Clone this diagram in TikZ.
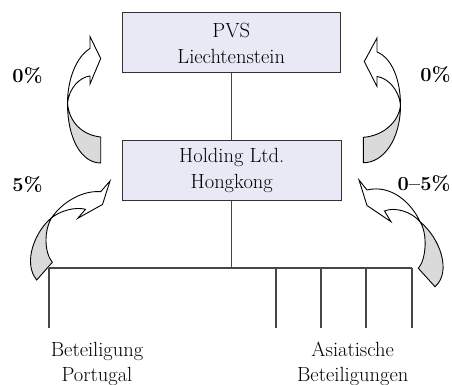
\documentclass[tikz,border=0pt]{standalone}
\definecolor{boxfill}{RGB}{233,233,246}
\definecolor{boxline}{RGB}{50,50,50}
\definecolor{treeline}{RGB}{70,70,70}
\definecolor{backside}{RGB}{218,218,218}
\begin{document}
\begin{tikzpicture}[x=1pt,y=-1pt,
  entity/.style={draw=boxline, fill=boxfill, line width=1pt,
    minimum width=218.5pt, minimum height=60pt, inner sep=0pt,
    align=center, font=\fontsize{20.5}{26}\selectfont},
  wire/.style={draw=treeline, line width=1.2pt},
  caption/.style={align=center, font=\fontsize{20.5}{25}\selectfont, anchor=base},
  rate/.style={font=\fontsize{20}{23}\bfseries\selectfont, anchor=base},
  front/.style={fill=white, draw=black, line width=0.9pt, line join=miter},
  back/.style={fill=backside, draw=black, line width=0.9pt, line join=miter}]
\useasboundingbox (0,0) rectangle (452,385);

% entities
\node[entity] (pvs) at (231.25,43) {PVS\\Liechtenstein};
\node[entity] (hold) at (231.75,170.5) {Holding Ltd.\\Hongkong};
\draw[wire] (pvs.south) -- (pvs.south |- hold.north);

% subsidiaries bus
\coordinate (bus) at (pvs.south |- 0,268);
\coordinate (busL) at (49,268);
\coordinate (busR) at (412,268);
\coordinate (d1) at (49,328);
\coordinate (d2) at (276,328);
\coordinate (d3) at (321,328);
\coordinate (d4) at (366,328);
\coordinate (d5) at (412,328);
\draw[wire] (pvs.south |- hold.south) -- (bus);
\draw[wire] (busL) -- (busR);
\draw[wire] (busL) -- (d1);
\draw[wire] (d2 |- busL) -- (d2);
\draw[wire] (d3 |- busL) -- (d3);
\draw[wire] (d4 |- busL) -- (d4);
\draw[wire] (busR) -- (d5);

\node[caption] (pt) at (97,381) {Beteiligung\\Portugal};
\node[caption] (asia) at (352.7,381) {Asiatische\\Beteiligungen};

% rates
\node[rate] (r1) at (27.5,83) {0\%};
\node[rate] (r2) at (435.5,82) {0\%};
\node[rate] (r3) at (27.5,191.5) {5\%};
\node[rate] (r4) at (424,190) {0--5\%};

% curved arrow, top left
\draw[front] (67.5,103) .. controls (67.5,80) and (76,57) .. (90,48.5)
  -- (90,36.5) -- (100.7,58.5) -- (90,84) -- (90,76)
  .. controls (80,77) and (69,88) .. (67.5,103) -- cycle;
\draw[back] (67.5,103) .. controls (67.5,140) and (82,163) .. (100.7,163)
  -- (100.7,137) .. controls (82,135) and (69,122) .. (67.5,103) -- cycle;

% curved arrow, top right
\draw[front] (400.5,105) .. controls (400.5,80) and (392,58) .. (377,52)
  -- (377,38) -- (364.3,61.5) -- (377,86.5) -- (377,76.5)
  .. controls (388,78) and (399,90) .. (400.5,105) -- cycle;
\draw[back] (400.5,105) .. controls (400.5,140) and (383,163) .. (363.3,162.7)
  -- (363.3,137.3) .. controls (383,136) and (399,122) .. (400.5,105) -- cycle;

% curved arrow, bottom left
\draw[front] (51.7,217.7) .. controls (60,205) and (80,190) .. (100.7,191.7)
  -- (110,181) -- (102.5,204.5) -- (77.7,218.3) -- (85.5,209.3)
  .. controls (75,206.5) and (60,211) .. (51.7,217.7) -- cycle;
\draw[back] (51.7,217.7) .. controls (36,230) and (22,262) .. (36.7,280)
  -- (52.3,262.3) .. controls (44,252) and (44,230) .. (51.7,217.7) -- cycle;

% curved arrow, bottom right
\draw[front] (420,221.7) .. controls (412,204) and (392,184) .. (367,190)
  -- (359,180) -- (367,205.5) -- (391,221.7) -- (384.5,211)
  .. controls (395,206.5) and (412,212) .. (420,221.7) -- cycle;
\draw[back] (420,221.7) .. controls (440,238) and (452,272) .. (435,286.7)
  -- (418.3,268.3) .. controls (426,260) and (428,234) .. (420,221.7) -- cycle;
\end{tikzpicture}
\end{document}
